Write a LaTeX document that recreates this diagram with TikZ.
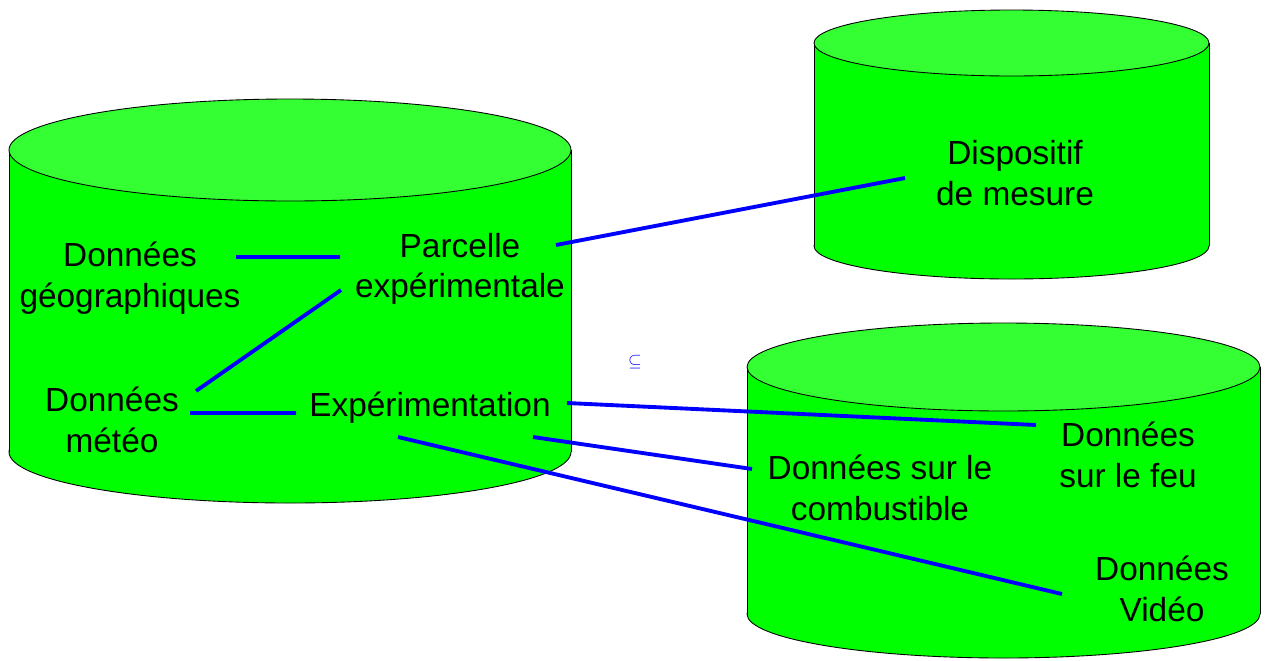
\documentclass[tikz,border=0pt]{standalone}
\usepackage{fontspec}
\setmainfont{Liberation Sans}

\definecolor{vert}{HTML}{00FF00}
\definecolor{vertclair}{HTML}{33FF33}

\tikzset{
    bord/.style={draw=black, line width=0.5pt},
    lien/.style={draw=blue, line width=2.2pt},
    txt/.style={align=center, inner sep=0pt, font=\fontsize{19}{23}\selectfont}
}

\begin{document}
\begin{tikzpicture}[x=0.02cm, y=-0.02cm]
\useasboundingbox (0,0) rectangle (1270,660);

% base de gauche
    \draw[bord, fill=vert] (290,452) ellipse [x radius=281, y radius=51];
    \fill[vert] (9,150) rectangle (571,452);
    \draw[bord]
(9,150) -- (9,452)
(571,150) -- (571,452)
;
    \draw[bord, fill=vertclair] (290,150) ellipse [x radius=281, y radius=51];

% base en haut a droite
    \draw[bord, fill=vert] (1011.5,246) ellipse [x radius=197.5, y radius=33];
    \fill[vert] (814,43) rectangle (1209,246);
    \draw[bord]
(814,43) -- (814,246)
(1209,43) -- (1209,246)
;
    \draw[bord, fill=vertclair] (1011.5,43) ellipse [x radius=197.5, y radius=33];

% base en bas a droite
    \draw[bord, fill=vert] (1003.5,614) ellipse [x radius=256.5, y radius=44];
    \fill[vert] (747,367) rectangle (1260,614);
    \draw[bord]
(747,367) -- (747,614)
(1260,367) -- (1260,614)
;
    \draw[bord, fill=vertclair] (1003.5,367) ellipse [x radius=256.5, y radius=44];

% textes
\node[txt] (geo) at (130,278) {Données\\géographiques};
\node[txt] (parc) at (460,269) {Parcelle\\expérimentale};
\node[txt] (meteo) at (112,420) {Données\\météo};
\node[txt] (exp) at (430,408) {Expérimentation};
\node[txt] (disp) at (1015,173) {Dispositif\\de mesure};
\node[txt] (feu) at (1128,455) {Données\\sur le feu};
\node[txt] (comb) at (880,488) {Données sur le\\combustible};
\node[txt] (video) at (1162,589) {Données\\Vidéo};
\node[text=blue, inner sep=0pt, font=\normalsize] (sym) at (635,362) {$\subseteq$};

% liens
    \draw[lien]
([shift={(106,-21)}]geo.center) -- ([shift={(-120,-12)}]parc.center)
([shift={(84,-29)}]meteo.center) -- ([shift={(-119,21)}]parc.center)
([shift={(78,-7)}]meteo.center) -- ([shift={(-134,5)}]exp.center)
([shift={(96,-24)}]parc.center) -- ([shift={(-110,5)}]disp.center)
([shift={(137,-5)}]exp.center) -- ([shift={(-92,-30)}]feu.center)
([shift={(103,29)}]exp.center) -- ([shift={(-128,-19)}]comb.center)
([shift={(-32,29)}]exp.center) -- ([shift={(-100,5)}]video.center)
;
\end{tikzpicture}
\end{document}
